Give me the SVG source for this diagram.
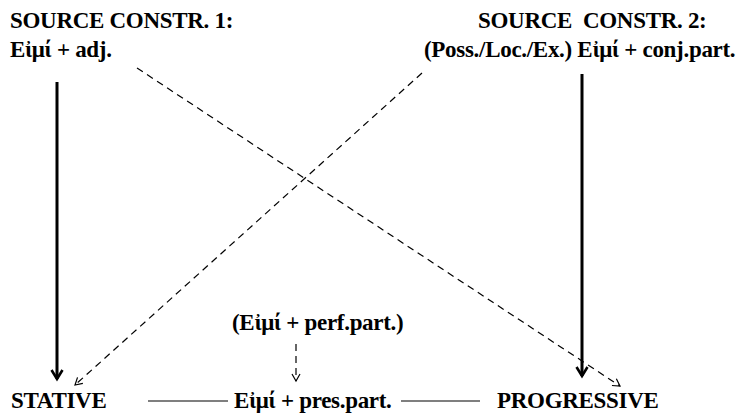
<svg xmlns="http://www.w3.org/2000/svg" width="738" height="415" viewBox="0 0 738 415">
<style>
text{font-family:"Liberation Serif","DejaVu Serif",serif;font-size:23px;font-weight:bold;fill:#000;letter-spacing:-0.3px}
.solid{stroke:#000;stroke-width:3;fill:none}
.dash{stroke:#000;stroke-width:1.2;fill:none;stroke-dasharray:7 5}
.plain{stroke:#000;stroke-width:1.2;fill:none}
</style>
<defs>
<marker id="big" markerWidth="14" markerHeight="14" refX="11" refY="7" orient="auto" markerUnits="userSpaceOnUse" viewBox="0 0 14 14">
<path d="M2,1.5 L11,7 L2,12.5" fill="none" stroke="#000" stroke-width="2.6"/>
</marker>
<marker id="small" markerWidth="12" markerHeight="12" refX="10" refY="6" orient="auto" markerUnits="userSpaceOnUse" viewBox="0 0 12 12">
<path d="M3,2 L10,6 L3,10" fill="none" stroke="#000" stroke-width="1.2"/>
</marker>
</defs>
<g id="source1">
<text x="10" y="28">SOURCE CONSTR. 1:</text>
<text x="10" y="57">Εἰμί + adj.</text>
</g>
<g id="source2">
<text x="478" y="28" xml:space="preserve">SOURCE  CONSTR. 2:</text>
<text x="424" y="57">(Poss./Loc./Ex.) Εἰμί + conj.part.</text>
</g>
<g id="perf">
<text x="232" y="330">(Εἰμί + perf.part.)</text>
</g>
<g id="stative">
<text x="11" y="408">STATIVE</text>
</g>
<g id="prespart">
<text x="234" y="408">Εἰμί + pres.part.</text>
</g>
<g id="progressive">
<text x="497" y="408">PROGRESSIVE</text>
</g>
<g id="connectors">
<line class="solid" x1="57" y1="82" x2="57" y2="379" marker-end="url(#big)"/>
<line class="solid" x1="582" y1="74" x2="582" y2="376" marker-end="url(#big)"/>
<line class="dash" x1="137" y1="68" x2="620" y2="386" marker-end="url(#small)"/>
<line class="dash" x1="422" y1="73" x2="75" y2="385" marker-end="url(#small)"/>
<line class="dash" x1="296" y1="344" x2="296" y2="381" marker-end="url(#small)"/>
<line class="plain" x1="148" y1="401" x2="228" y2="401"/>
<line class="plain" x1="401" y1="401" x2="480" y2="401"/>
</g>
</svg>
